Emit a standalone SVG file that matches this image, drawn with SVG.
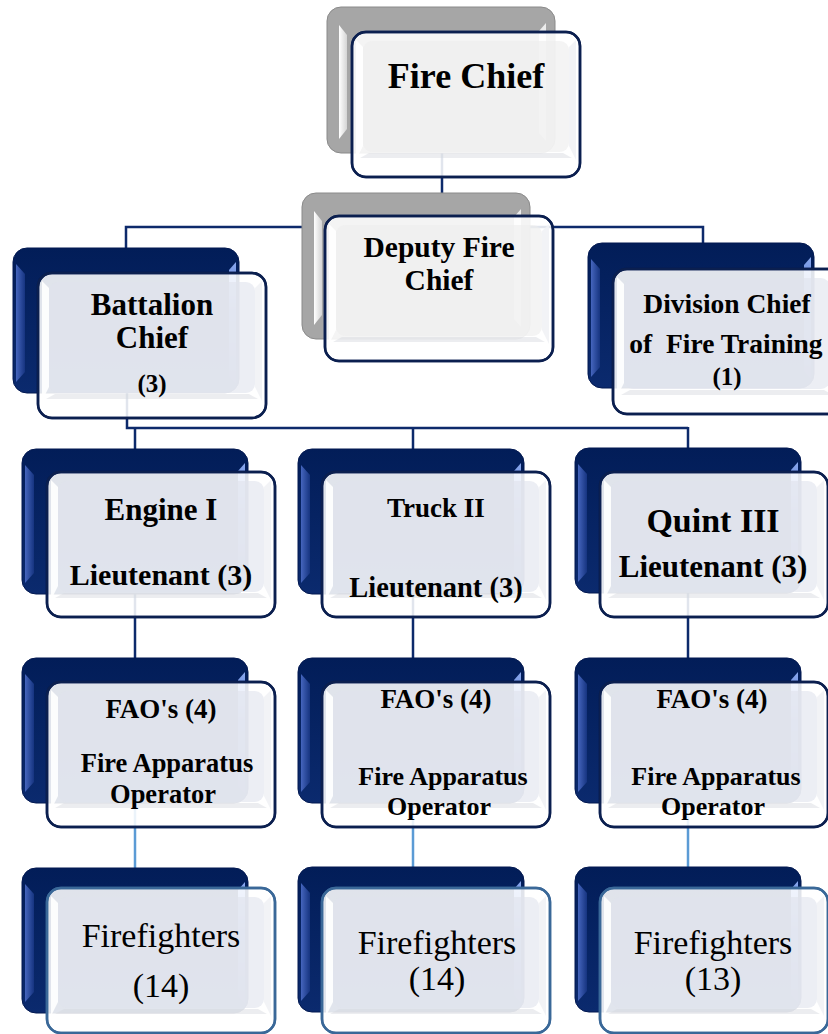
<svg xmlns="http://www.w3.org/2000/svg" xmlns:xlink="http://www.w3.org/1999/xlink" width="828" height="1034" viewBox="0 0 828 1034">
  <style>
    .link { fill: none; stroke: #0d2a6b; stroke-width: 2.5; }
    .link-light { fill: none; stroke: #5b9bd5; stroke-width: 2.5; }
    .edge-navy { stroke: #0b1f4f; stroke-width: 2.5; }
    .edge-steel { stroke: #3a6898; stroke-width: 2.5; }
    .tint-blue { fill: #dfe3ec; }
    .tint-gray { fill: #ededed; }
    .t { font-family: "Liberation Serif", "Times New Roman", serif; font-weight: bold; fill: #000; text-anchor: middle; }
    .ff { font-family: "Liberation Serif", "Times New Roman", serif; font-weight: normal; font-size: 34px; fill: #000; text-anchor: middle; }
  </style>
  <defs>
    <linearGradient id="gNavy" x1="0" y1="0" x2="0" y2="1">
      <stop offset="0" stop-color="#021d58"/>
      <stop offset="1" stop-color="#0b2a6e"/>
    </linearGradient>
    <linearGradient id="gNavyL" x1="0" y1="0" x2="1" y2="0">
      <stop offset="0" stop-color="#4565bd"/>
      <stop offset="1" stop-color="#163480"/>
    </linearGradient>
    <linearGradient id="gNavyR" x1="0" y1="0" x2="0" y2="1">
      <stop offset="0" stop-color="#8aa8ee"/>
      <stop offset="0.4" stop-color="#3d62c0"/>
      <stop offset="1" stop-color="#1a3884"/>
    </linearGradient>
    <linearGradient id="gGrayL" x1="0" y1="0" x2="1" y2="0">
      <stop offset="0" stop-color="#ffffff"/>
      <stop offset="1" stop-color="#d4d4d4"/>
    </linearGradient>

    <!-- dark back plate of a navy card -->
    <g id="back-navy">
      <rect width="226" height="145" rx="14" fill="url(#gNavy)" stroke="#021850" stroke-width="1"/>
      <path d="M3,16 L12,26 V124 L3,134 Z" fill="url(#gNavyL)"/>
      <path d="M223,14 L216,22 V128 L223,136 Z" fill="url(#gNavyR)"/>
    </g>

    <!-- grey back plate of a chief card -->
    <g id="back-gray">
      <rect width="228" height="146" rx="14" fill="#a6a6a6" stroke="#8a8a8a" stroke-width="1"/>
      <path d="M12,18 L20,28 V122 L12,132 Z" fill="url(#gGrayL)"/>
      <path d="M219,16 L212,24 V126 L219,134 Z" fill="#ececec"/>
    </g>

    <!-- translucent face plate; stroke and inner tint come from the <use> -->
    <g id="face">
      <rect x="0" y="0" width="228" height="145" rx="14" fill="#ffffff" fill-opacity="0.88"/>
      <rect x="11" y="9" width="206" height="111" rx="9" stroke="none" fill-opacity="0.6"/>
      <path d="M4,8 L11,15 V114 L4,128 Z" fill="#ffffff" fill-opacity="0.9" stroke="none"/>
      <path d="M224,8 L217,15 V114 L224,128 Z" fill="#f1f2f5" fill-opacity="0.9" stroke="none"/>
      <path d="M8,126 L17,121 H211 L220,126 Z" fill="#d4d7de" fill-opacity="0.45" stroke="none"/>
      <rect x="0" y="0" width="228" height="145" rx="14" fill="none"/>
    </g>
  </defs>

  <rect width="828" height="1034" fill="#ffffff"/>

  <!-- connectors -->
  <g id="connectors">
    <path class="link" d="M442,100 V227"/>
    <path class="link" d="M126,250 V227 H703 V245"/>
    <path class="link" d="M127,330 V428 H688"/>
    <path class="link" d="M135,428 V451"/>
    <path class="link" d="M413,428 V451"/>
    <path class="link" d="M688,427 V450"/>
    <path class="link" d="M135,560 V660"/>
    <path class="link" d="M413,560 V660"/>
    <path class="link" d="M688,560 V660"/>
    <path class="link-light" d="M135,770 V870"/>
    <path class="link-light" d="M413,770 V869"/>
    <path class="link-light" d="M688,770 V869"/>
  </g>

  <g id="fire-chief">
    <use href="#back-gray" x="327" y="7"/>
    <use href="#face" x="352" y="32" class="edge-navy tint-gray"/>
    <text class="t" x="466" y="88" font-size="36">Fire Chief</text>
  </g>

  <g id="deputy-fire-chief">
    <use href="#back-gray" x="302" y="193"/>
    <use href="#face" x="325" y="216" class="edge-navy tint-gray"/>
    <text class="t" x="439" y="257" font-size="29.5">Deputy Fire</text>
    <text class="t" x="439" y="290" font-size="29.5">Chief</text>
  </g>

  <g id="battalion-chief">
    <use href="#back-navy" x="13" y="248"/>
    <use href="#face" x="38" y="273" class="edge-navy tint-blue"/>
    <text class="t" x="152" y="315" font-size="31">Battalion</text>
    <text class="t" x="152" y="348" font-size="31">Chief</text>
    <text class="t" x="152" y="392" font-size="25">(3)</text>
  </g>

  <g id="division-chief">
    <use href="#back-navy" x="588" y="243"/>
    <use href="#face" x="613" y="269" class="edge-navy tint-blue"/>
    <text class="t" x="727" y="313" font-size="27.5">Division Chief</text>
    <text class="t" x="726" y="353" font-size="27.5" xml:space="preserve">of  Fire Training</text>
    <text class="t" x="727" y="385" font-size="25">(1)</text>
  </g>

  <g id="engine-lieutenant">
    <use href="#back-navy" x="22" y="449"/>
    <use href="#face" x="47" y="472" class="edge-navy tint-blue"/>
    <text class="t" x="161" y="520" font-size="31">Engine I</text>
    <text class="t" x="161" y="585" font-size="30">Lieutenant (3)</text>
  </g>

  <g id="truck-lieutenant">
    <use href="#back-navy" x="298" y="449"/>
    <use href="#face" x="322" y="472" class="edge-navy tint-blue"/>
    <text class="t" x="436" y="517" font-size="27">Truck II</text>
    <text class="t" x="436" y="597" font-size="28.5">Lieutenant (3)</text>
  </g>

  <g id="quint-lieutenant">
    <use href="#back-navy" x="575" y="448"/>
    <use href="#face" x="600" y="472" class="edge-navy tint-blue"/>
    <text class="t" x="713" y="532" font-size="34">Quint III</text>
    <text class="t" x="713" y="577" font-size="31">Lieutenant (3)</text>
  </g>

  <g id="engine-fao">
    <use href="#back-navy" x="22" y="658"/>
    <use href="#face" x="47" y="682" class="edge-navy tint-blue"/>
    <text class="t" x="161" y="718" font-size="27">FAO's (4)</text>
    <text class="t" x="167" y="772" font-size="26.5">Fire Apparatus</text>
    <text class="t" x="163" y="803" font-size="26.5">Operator</text>
  </g>

  <g id="truck-fao">
    <use href="#back-navy" x="298" y="658"/>
    <use href="#face" x="322" y="682" class="edge-navy tint-blue"/>
    <text class="t" x="436" y="708" font-size="27">FAO's (4)</text>
    <text class="t" x="443" y="785" font-size="26">Fire Apparatus</text>
    <text class="t" x="439" y="815" font-size="26">Operator</text>
  </g>

  <g id="quint-fao">
    <use href="#back-navy" x="575" y="658"/>
    <use href="#face" x="600" y="682" class="edge-navy tint-blue"/>
    <text class="t" x="712" y="708" font-size="27">FAO's (4)</text>
    <text class="t" x="716" y="785" font-size="26">Fire Apparatus</text>
    <text class="t" x="713" y="815" font-size="26">Operator</text>
  </g>

  <g id="engine-firefighters">
    <use href="#back-navy" x="22" y="868"/>
    <use href="#face" x="47" y="888" class="edge-steel tint-blue"/>
    <text class="ff" x="161" y="947">Firefighters</text>
    <text class="ff" x="161" y="997">(14)</text>
  </g>

  <g id="truck-firefighters">
    <use href="#back-navy" x="298" y="867"/>
    <use href="#face" x="322" y="888" class="edge-steel tint-blue"/>
    <text class="ff" x="437" y="954">Firefighters</text>
    <text class="ff" x="437" y="990">(14)</text>
  </g>

  <g id="quint-firefighters">
    <use href="#back-navy" x="575" y="867"/>
    <use href="#face" x="600" y="888" class="edge-steel tint-blue"/>
    <text class="ff" x="713" y="954">Firefighters</text>
    <text class="ff" x="713" y="990">(13)</text>
  </g>
</svg>
